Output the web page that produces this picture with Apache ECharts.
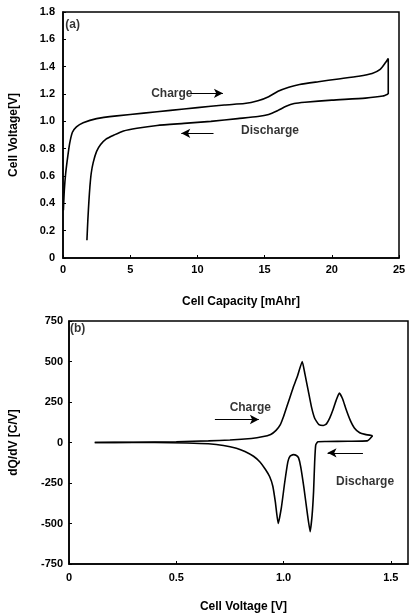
<!DOCTYPE html>
<html>
<head>
<meta charset="utf-8">
<script src="https://cdn.jsdelivr.net/npm/echarts@6/dist/echarts.min.js"></script>
<style>
html,body{margin:0;padding:0;background:#fff;}
#chart{width:412px;height:614px;}
</style>
</head>
<body>
<div id="chart"></div>
<script>
// ---- Panel (a): Cell voltage vs capacity ----
var chargeA_cap = [0.03, 0.1, 0.2, 0.35, 0.5, 0.7, 1.0, 1.5, 2.5, 4, 6, 8, 10, 12, 13.5, 14.5, 15.3, 16, 16.8, 17.6, 19, 20.5, 22, 23, 23.6, 24.0, 24.2, 24.2];
var chargeA_volt = [0.35, 0.5, 0.62, 0.74, 0.84, 0.92, 0.96, 0.99, 1.02, 1.04, 1.06, 1.08, 1.10, 1.12, 1.13, 1.15, 1.18, 1.22, 1.25, 1.27, 1.29, 1.31, 1.33, 1.35, 1.38, 1.43, 1.46, 1.20];
var dischargeA_cap = [24.2, 23.8, 22.5, 20, 18, 17.2, 16.6, 16, 15.3, 14.5, 13, 11, 9, 7, 5.5, 4.5, 3.8, 3.2, 2.8, 2.5, 2.25, 2.1, 2.0, 1.93, 1.85, 1.78];
var dischargeA_volt = [1.20, 1.185, 1.17, 1.155, 1.14, 1.13, 1.11, 1.08, 1.05, 1.035, 1.02, 1.0, 0.985, 0.97, 0.95, 0.93, 0.9, 0.87, 0.83, 0.78, 0.7, 0.62, 0.52, 0.42, 0.28, 0.13];

// ---- Panel (b): dQ/dV vs cell voltage ----
var chargeB_v = [0.12, 0.3, 0.5, 0.65, 0.75, 0.85, 0.9, 0.94, 0.965, 0.985, 1.0, 1.015, 1.03, 1.045, 1.065, 1.087, 1.1, 1.115, 1.13, 1.145, 1.165, 1.185, 1.2, 1.215, 1.23, 1.245, 1.26, 1.275, 1.29, 1.31, 1.33, 1.355, 1.38, 1.415];
var chargeB_dq = [0, 2, 5, 10, 15, 25, 35, 50, 75, 110, 160, 220, 280, 340, 410, 500, 420, 320, 220, 150, 110, 105, 115, 150, 200, 260, 305, 270, 210, 140, 90, 60, 50, 42];
var dischargeB_v = [1.415, 1.39, 1.3, 1.2, 1.16, 1.15, 1.145, 1.14, 1.133, 1.124, 1.11, 1.095, 1.08, 1.07, 1.06, 1.045, 1.03, 1.02, 1.005, 0.99, 0.975, 0.962, 0.95, 0.935, 0.915, 0.89, 0.86, 0.82, 0.78, 0.72, 0.65, 0.55, 0.4, 0.12];
var dischargeB_dq = [42, 10, 8, 6, 5, -15, -120, -300, -450, -550, -430, -280, -150, -95, -80, -75, -85, -120, -250, -400, -500, -370, -270, -210, -165, -120, -85, -55, -35, -18, -8, -3, 0, 0];

// ---- Axis ticks ----
var xTicksA = [0, 5, 10, 15, 20, 25];
var yTicksA = [0, 0.2, 0.4, 0.6, 0.8, 1.0, 1.2, 1.4, 1.6, 1.8];
var xTicksB = [0, 0.5, 1.0, 1.5];
var yTicksB = [-750, -500, -250, 0, 250, 500, 750];

// ---- Annotations (data coordinates) ----
var annotA = [
  {text: 'Charge', x: 8.1, y: 1.205},
  {text: 'Discharge', x: 15.4, y: 0.93},
  {text: '(a)', x: 0.72, y: 1.71}
];
var arrowsA = [
  {from: [9.5, 1.205], to: [11.9, 1.205]},
  {from: [11.2, 0.912], to: [8.8, 0.912]}
];
var annotB = [
  {text: 'Charge', x: 0.845, y: 215},
  {text: 'Discharge', x: 1.38, y: -242},
  {text: '(b)', x: 0.04, y: 700}
];
var arrowsB = [
  {from: [0.68, 142], to: [0.885, 142]},
  {from: [1.37, -64], to: [1.205, -64]}
];

function zip(a, b) { return a.map(function (v, i) { return [v, b[i]]; }); }

var FONT = 'Liberation Sans';
var labelStyle = {fontFamily: FONT, fontWeight: 'bold', fontSize: 11, color: '#000'};

function fmtA(v) { return v === 0 ? '0' : v.toFixed(1); }
function fmtBx(v) { return v === 0 ? '0' : v.toFixed(1); }

var lineStyle = {color: '#000', width: 1.6};

function annotSeries(list, xi, yi) {
  return {
    type: 'scatter', xAxisIndex: xi, yAxisIndex: yi,
    symbolSize: 0, silent: true, z: 10,
    data: list.map(function (a) { return {value: [a.x, a.y], name: a.text}; }),
    label: {show: true, position: 'inside', formatter: '{b}',
      fontFamily: FONT, fontWeight: 'bold', fontSize: 12, color: '#000'}
  };
}
function arrowSeries(list, xi, yi) {
  return {
    type: 'line', xAxisIndex: xi, yAxisIndex: yi, data: [], silent: true,
    markLine: {
      silent: true, symbol: ['none', 'arrow'], symbolSize: [7, 9],
      label: {show: false},
      lineStyle: {color: '#000', width: 1, type: 'solid'},
      animation: false,
      data: list.map(function (a) { return [{coord: a.from}, {coord: a.to}]; })
    }
  };
}

var chart = echarts.init(document.getElementById('chart'));
chart.setOption({
  animation: false,
  backgroundColor: '#fff',
  grid: [
    {left: 61, top: 12, width: 338, height: 246, show: true, borderColor: '#000', borderWidth: 1.5, backgroundColor: 'transparent'},
    {left: 67, top: 321, width: 341, height: 245, show: true, borderColor: '#000', borderWidth: 1.5, backgroundColor: 'transparent'}
  ],
  xAxis: [
    {type: 'value', gridIndex: 0, min: xTicksA[0], max: xTicksA[xTicksA.length - 1], interval: 5,
      name: 'Cell Capacity [mAhr]', nameLocation: 'middle', nameGap: 38,
      nameTextStyle: {fontFamily: FONT, fontWeight: 'bold', fontSize: 12, color: '#000', padding: [0, 0, 0, 20]},
      axisLine: {onZero: false, lineStyle: {color: '#000', width: 1.5}},
      axisTick: {inside: true, length: 3, lineStyle: {color: '#000'}},
      axisLabel: Object.assign({margin: 6, formatter: function (v) { return String(v); }}, labelStyle),
      splitLine: {show: false}},
    {type: 'value', gridIndex: 1, min: xTicksB[0], max: 1.58, interval: 0.5,
      name: 'Cell Voltage [V]', nameLocation: 'middle', nameGap: 37,
      nameTextStyle: {fontFamily: FONT, fontWeight: 'bold', fontSize: 12, color: '#000', padding: [0, 0, 0, 10]},
      axisLine: {onZero: false, lineStyle: {color: '#000', width: 1.5}},
      axisTick: {inside: true, length: 3, lineStyle: {color: '#000'}},
      axisLabel: Object.assign({margin: 8, showMaxLabel: false, formatter: fmtBx}, labelStyle),
      splitLine: {show: false}}
  ],
  yAxis: [
    {type: 'value', gridIndex: 0, min: yTicksA[0], max: yTicksA[yTicksA.length - 1], interval: 0.2,
      name: 'Cell Voltage[V]', nameLocation: 'middle', nameGap: 43, nameRotate: 90,
      nameTextStyle: {fontFamily: FONT, fontWeight: 'bold', fontSize: 12, color: '#000'},
      axisLine: {onZero: false, lineStyle: {color: '#000', width: 1.5}},
      axisTick: {inside: true, length: 3, lineStyle: {color: '#000'}},
      axisLabel: Object.assign({margin: 8, formatter: fmtA}, labelStyle),
      splitLine: {show: false}},
    {type: 'value', gridIndex: 1, min: yTicksB[0], max: yTicksB[yTicksB.length - 1], interval: 250,
      name: 'dQ/dV [C/V]', nameLocation: 'middle', nameGap: 49, nameRotate: 90,
      nameTextStyle: {fontFamily: FONT, fontWeight: 'bold', fontSize: 12, color: '#000'},
      axisLine: {onZero: false, lineStyle: {color: '#000', width: 1.5}},
      axisTick: {inside: true, length: 3, lineStyle: {color: '#000'}},
      axisLabel: Object.assign({margin: 6}, labelStyle),
      splitLine: {show: false}}
  ],
  series: [
    {type: 'line', xAxisIndex: 0, yAxisIndex: 0, data: zip(chargeA_cap, chargeA_volt), showSymbol: false, smooth: 0.2, lineStyle: lineStyle},
    {type: 'line', xAxisIndex: 0, yAxisIndex: 0, data: zip(dischargeA_cap, dischargeA_volt), showSymbol: false, smooth: 0.2, lineStyle: lineStyle},
    {type: 'line', xAxisIndex: 1, yAxisIndex: 1, data: zip(chargeB_v, chargeB_dq), showSymbol: false, smooth: 0.15, lineStyle: lineStyle},
    {type: 'line', xAxisIndex: 1, yAxisIndex: 1, data: zip(dischargeB_v, dischargeB_dq), showSymbol: false, smooth: 0.15, lineStyle: lineStyle},
    annotSeries(annotA, 0, 0),
    annotSeries(annotB, 1, 1),
    arrowSeries(arrowsA, 0, 0),
    arrowSeries(arrowsB, 1, 1)
  ]
});
</script>
</body>
</html>
